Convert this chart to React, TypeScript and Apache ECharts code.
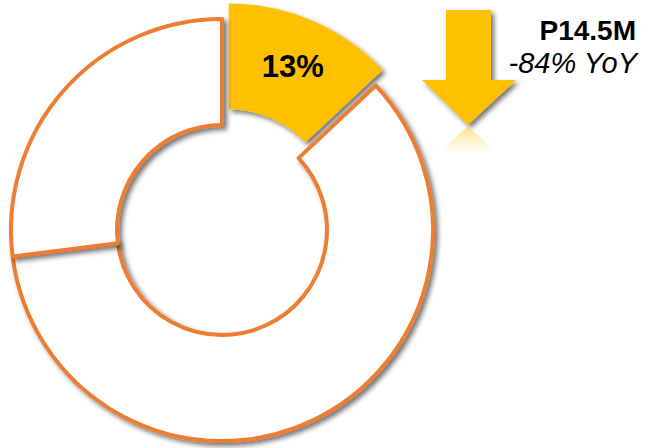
import React, { useEffect, useRef } from "react";
import * as echarts from "echarts";

const categories = ["Share", "Rest A", "Rest B"];
const values = [13, 60, 27];
const highlightLabel = "13%";
const headline = "P14.5M";
const subline = "-84% YoY";

const YELLOW = "#FFC000";
const ORANGE = "#ED7D31";
const FONT = "'Liberation Sans', Arial, sans-serif";

export default function App() {
  const ref = useRef<HTMLDivElement>(null);
  useEffect(() => {
    if (!ref.current) return;
    const chart = echarts.init(ref.current, undefined, { renderer: "svg" });
    const shadow = {
      shadowBlur: 5,
      shadowColor: "rgba(0,0,0,0.55)",
      shadowOffsetX: 3,
      shadowOffsetY: 3,
    };
    chart.setOption({
      animation: false,
      backgroundColor: "#ffffff",
      series: [
        {
          type: "pie",
          center: [222, 230],
          radius: [105, 211],
          startAngle: 90,
          clockwise: true,
          selectedMode: "single",
          selectedOffset: 17,
          emphasis: { disabled: true },
          labelLine: { show: false },
          data: categories.map((name, i) =>
            i === 0
              ? {
                  name,
                  value: values[i],
                  selected: true,
                  itemStyle: { color: YELLOW, borderWidth: 0, ...shadow },
                  label: {
                    show: true,
                    position: "inside",
                    formatter: highlightLabel,
                    fontSize: 31,
                    fontWeight: "bold",
                    color: "#000",
                    fontFamily: FONT,
                  },
                }
              : {
                  name,
                  value: values[i],
                  itemStyle: {
                    color: "#ffffff",
                    borderColor: ORANGE,
                    borderWidth: 4,
                    ...shadow,
                  },
                  label: { show: false },
                }
          ),
        },
      ],
      graphic: [
        {
          type: "polygon",
          shape: {
            points: [
              [446, 10],
              [491, 10],
              [491, 80],
              [516, 80],
              [468, 125],
              [422, 80],
              [446, 80],
            ],
          },
          style: { fill: YELLOW, ...shadow },
        },
        {
          type: "polygon",
          shape: {
            points: [
              [468, 126],
              [497, 153],
              [439, 153],
            ],
          },
          style: {
            fill: new echarts.graphic.LinearGradient(0, 0, 0, 1, [
              { offset: 0, color: "rgba(255,192,0,0.45)" },
              { offset: 1, color: "rgba(255,192,0,0)" },
            ]),
          },
        },
        {
          type: "text",
          x: 636,
          y: 30,
          style: {
            text: headline,
            fontSize: 28,
            fontWeight: "bold",
            fontFamily: FONT,
            fill: "#000",
            align: "right",
            verticalAlign: "middle",
          },
        },
        {
          type: "text",
          x: 637,
          y: 63,
          style: {
            text: subline,
            fontSize: 29,
            fontStyle: "italic",
            fontFamily: FONT,
            fill: "#000",
            align: "right",
            verticalAlign: "middle",
          },
        },
      ],
    });
    return () => chart.dispose();
  }, []);
  return (
    <div
      ref={ref}
      style={{ position: "fixed", left: 0, top: 0, width: 656, height: 448 }}
    />
  );
}
